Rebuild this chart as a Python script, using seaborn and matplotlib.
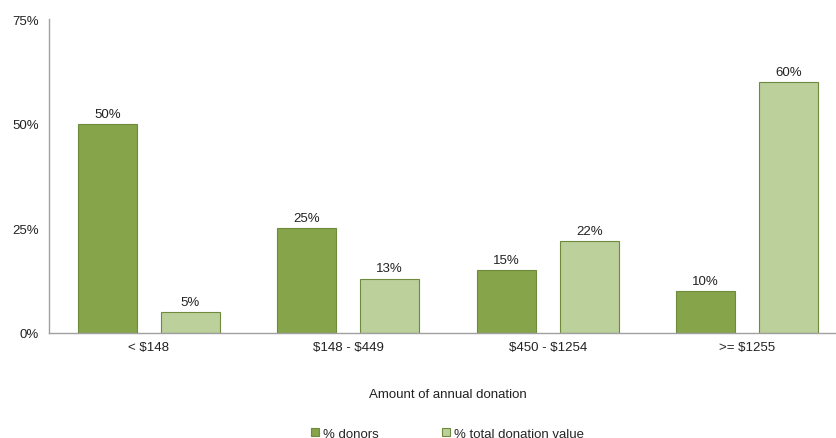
import pandas as pd
import matplotlib
matplotlib.use("Agg")
import matplotlib.pyplot as plt
import seaborn as sns

categories = ["< $148", "$148 - $449", "$450 - $1254", ">= $1255"]
donors = [50, 25, 15, 10]
donation_value = [5, 13, 22, 60]
series_names = ["% donors", "% total donation value"]

df = pd.DataFrame({
    "category": categories * 2,
    "value": donors + donation_value,
    "series": [series_names[0]] * 4 + [series_names[1]] * 4,
})

sns.set_style("white")
plt.rcParams["font.family"] = ["Liberation Sans", "DejaVu Sans"]
plt.rcParams["text.parse_math"] = False

dark = "#86A44A"
light = "#BBD09A"
edge = "#6E8B3D"

fig = plt.figure(figsize=(8.36, 4.39), dpi=100)
# the plot area runs a little past the right edge of the figure
ax = fig.add_axes([0.0586, 0.2392, 0.9545, 0.7152])

sns.barplot(data=df, x="category", y="value", hue="series", order=categories,
            hue_order=series_names, palette=[dark, light], saturation=1,
            width=0.832, gap=0.29, edgecolor=edge, linewidth=0.8, ax=ax, legend=True)

for container in ax.containers:
    ax.bar_label(container, labels=[f"{v:.0f}%" for v in container.datavalues],
                 padding=3, fontsize=9.5, color="#222222")

ax.set_ylim(0, 75)
ax.set_xlim(-0.5, 3.5)
ax.set_yticks([0, 25, 50, 75])
ax.set_yticklabels(["0%", "25%", "50%", "75%"])
ax.set_xticks([0.5, 1.5, 2.5], minor=True)
ax.tick_params(axis="x", which="major", length=0, labelsize=9.5, pad=6, colors="#222222")
ax.tick_params(axis="x", which="minor", length=4, color="#A0A0A0", direction="out")
ax.tick_params(axis="y", length=4, labelsize=9.5, labelcolor="#222222", color="#A0A0A0",
               direction="out")

for side in ["top", "right"]:
    ax.spines[side].set_visible(False)
for side in ["left", "bottom"]:
    ax.spines[side].set_color("#A0A0A0")
    ax.spines[side].set_linewidth(1)

ax.set_xlabel("Amount of annual donation", fontsize=9.5, labelpad=25, color="#222222")
ax.set_ylabel("")

handles, labels = ax.get_legend_handles_labels()
ax.get_legend().remove()
fig.legend(handles, labels, loc="center", bbox_to_anchor=(0.535, 0.01),
           ncol=2, frameon=False, fontsize=9.5, handlelength=0.6, handleheight=0.6,
           handletextpad=0.3, columnspacing=4.8)

plt.savefig("out.png", dpi=100)
